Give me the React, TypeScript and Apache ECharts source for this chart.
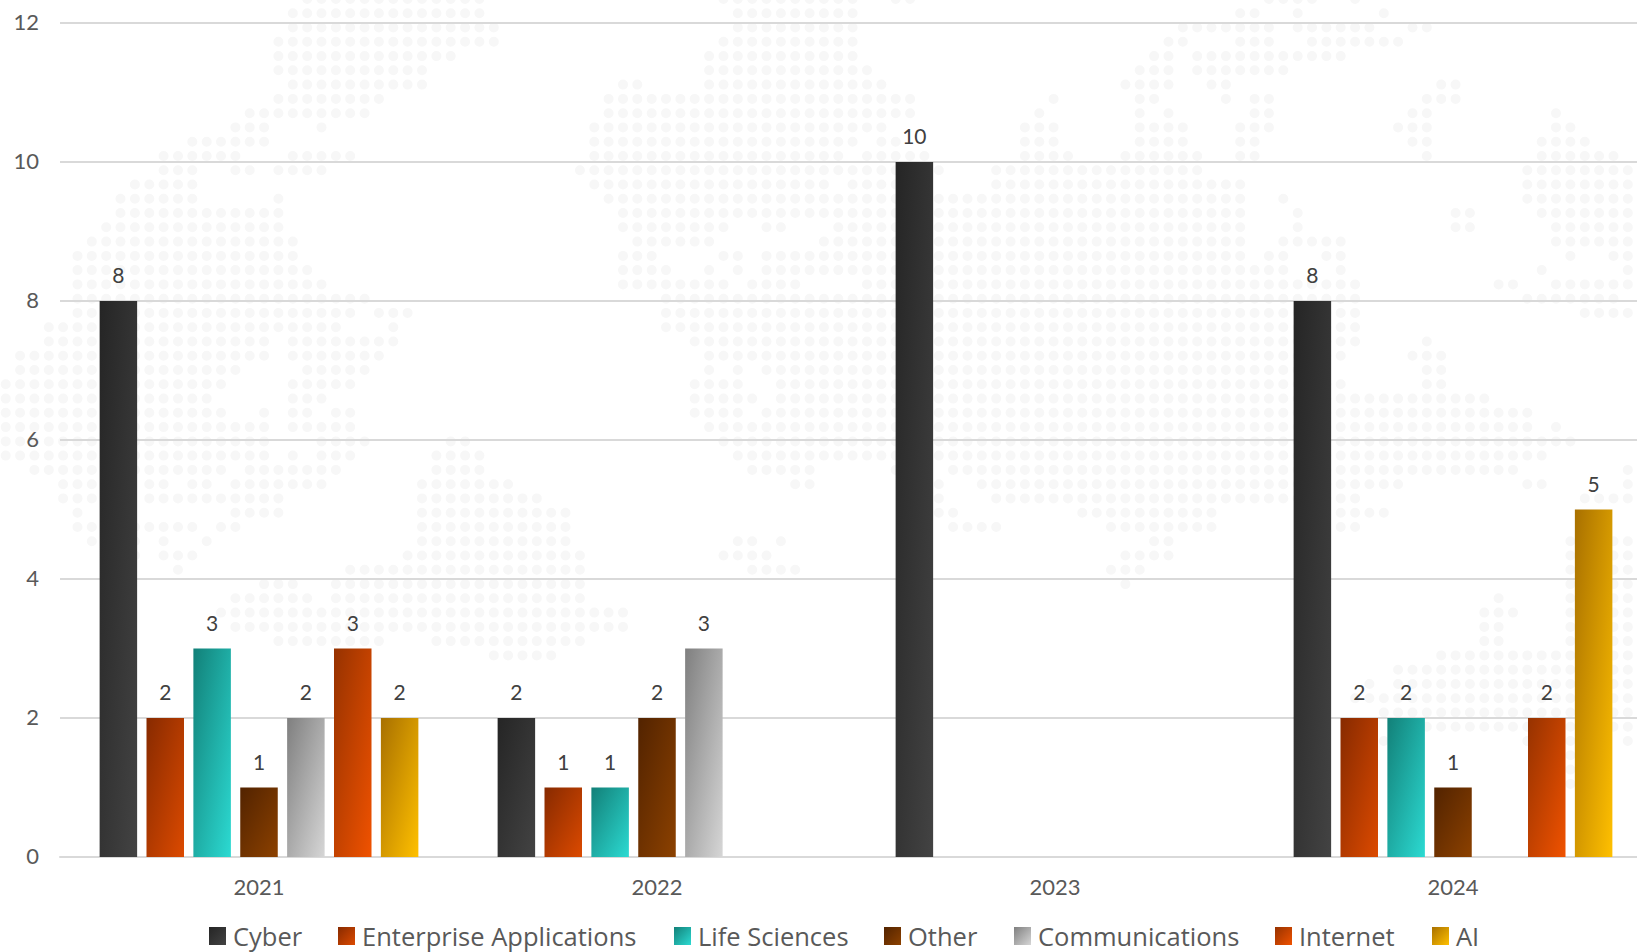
import React, { useEffect, useRef } from "react";
import * as echarts from "echarts";

const years = ["2021", "2022", "2023", "2024"];
const cyber = [8, 2, 10, 8];
const enterprise = [2, 1, null, 2];
const lifeSciences = [3, 1, null, 2];
const other = [1, 2, null, 1];
const communications = [2, 3, null, null];
const internet = [3, null, null, 2];
const ai = [2, null, null, 5];

const seriesList = [
  { name: "Cyber", values: cyber, from: "#252525", to: "#434343" },
  { name: "Enterprise Applications", values: enterprise, from: "#872a00", to: "#dc4a00" },
  { name: "Life Sciences", values: lifeSciences, from: "#128078", to: "#2cdad2" },
  { name: "Other", values: other, from: "#522300", to: "#8c4100" },
  { name: "Communications", values: communications, from: "#7f7f7f", to: "#d6d6d6" },
  { name: "Internet", values: internet, from: "#963200", to: "#f05200" },
  { name: "AI", values: ai, from: "#a87000", to: "#ffc000" },
];

const legendLefts = [204, 333, 669, 879, 1009, 1270, 1427];

// Decorative dotted world map behind the plot: per lattice row, pairs of first/last lattice column.
const mapRows: number[][] = [
  [21,33,50,59,62,63,88,91,94,94],
  [20,33,51,59,86,87,90,90,96,96],
  [20,34,51,59,82,88,90,95,98,99],
  [19,34,50,59,81,82,86,88,91,97],
  [19,31,49,59,80,81,83,93],
  [19,29,49,60,79,81,83,89],
  [20,29,43,44,49,61,78,81,84,85,100,101],
  [19,26,42,63,73,73,79,80,85,85,87,88,99,101],
  [17,25,42,63,72,72,79,79,81,81,87,88,98,99,108,108],
  [16,18,22,22,41,61,71,73,79,82,86,88,97,99,108,109],
  [13,18,41,59,61,62,71,73,79,82,86,87,98,99,107,110],
  [11,16,20,24,41,58,60,64,71,74,78,83,86,87,99,99,107,112],
  [11,13,16,17,19,22,40,65,69,83,106,114],
  [9,13,41,57,59,63,69,86,106,114],
  [8,13,19,19,42,86,89,89,106,114],
  [8,19,43,86,90,90,101,102,107,114],
  [7,19,43,50,53,54,58,86,90,90,101,102,108,114],
  [6,20,44,49,57,86,89,93,108,114],
  [5,20,43,45,50,51,53,86,88,89,92,93,109,109,112,114],
  [5,21,43,46,49,49,51,51,53,89,93,93,107,107,113,113],
  [5,22,43,50,52,55,60,94,104,105,108,113],
  [5,25,46,94,106,112],
  [5,24,26,28,46,94,110,114],
  [3,23,27,27,46,94],
  [3,18,20,27,48,94,99,99],
  [1,18,20,26,49,93,98,100],
  [1,16,21,25,49,49,51,51,53,91,99,100],
  [0,15,20,24,48,51,54,93,99,100],
  [0,14,20,22,48,52,54,103],
  [0,15,18,18,20,21,23,24,48,51,53,106],
  [0,18,20,24,49,106,108,108],
  [0,18,22,25,31,32,50,109],
  [0,18,20,20,22,24,30,33,51,107,114,114],
  [2,15,17,23,30,33,52,56,62,62,66,105,113,113],
  [4,6,10,11,13,14,16,22,29,35,55,56,65,65,68,97,106,107,113,113],
  [4,6,10,19,29,37,65,65,69,94,110,114],
  [5,5,16,19,29,39,65,66,75,84,93,96],
  [5,6,9,13,15,16,29,39,66,69,77,84,93,94],
  [6,6,9,9,11,11,14,14,29,39,51,52,54,54,80,81,109,114],
  [9,9,11,13,28,40,50,53,78,81,109,114],
  [12,12,24,40,52,55,77,79,109,114],
  [18,20,23,40,78,78,109,114],
  [16,21,23,40,104,104,109,114],
  [15,43,103,105,109,114],
  [16,43,103,104,109,114],
  [19,26,30,40,103,104,109,114],
  [34,38,100,114],
  [97,114],
  [95,95,97,114],
  [94,114],
  [96,114],
  [99,114],
  [96,96,106,109,113,114],
  [109,109,114,114],
  [109,109],
  [109,109],
];

function buildDots(): string {
  const pitchX = 14.355;
  const pitchY = 14.27;
  const radius = 5;
  let d = "";
  mapRows.forEach((runs, row) => {
    const cy = -1 + pitchY * row;
    for (let i = 0; i < runs.length; i += 2) {
      for (let c = runs[i]; c <= runs[i + 1]; c++) {
        const cx = 5.7 + pitchX * c;
        d += `M${(cx - radius).toFixed(1)} ${cy.toFixed(1)}a${radius} ${radius} 0 1 0 ${radius * 2} 0a${radius} ${radius} 0 1 0 ${-radius * 2} 0z`;
      }
    }
  });
  return d;
}

const FONT = "Lato";
const LEGEND_FONT = "Open Sans";

export default function App() {
  const ref = useRef<HTMLDivElement>(null);
  useEffect(() => {
    echarts.graphic.registerShape("dotmap", echarts.graphic.extendPath(buildDots(), {}) as any);
    const chart = echarts.init(ref.current!, null, { renderer: "svg" });
    chart.setOption({
      animation: false,
      backgroundColor: "#ffffff",
      textStyle: { fontFamily: FONT },
      graphic: [
        { type: "dotmap", x: 0, y: 0, z: -10, silent: true, style: { fill: "#f7f7f7" } },
      ],
      grid: { left: 60, top: 23, width: 1592, height: 834, outerBoundsMode: "none" },
      legend: seriesList.map((s, i) => ({
        data: [s.name],
        left: legendLefts[i],
        top: 918,
        itemWidth: 17,
        itemHeight: 18,
        icon: "rect",
        selectedMode: false,
        textStyle: { color: "#595959", fontSize: 25.5, fontFamily: LEGEND_FONT, padding: [0, 0, 0, 2] },
      })),
      xAxis: {
        type: "category",
        data: years,
        axisTick: { show: false },
        axisLine: { lineStyle: { color: "#d9d9d9", width: 2 } },
        axisLabel: { color: "#595959", fontSize: 22, fontFamily: FONT, margin: 18 },
      },
      yAxis: {
        type: "value",
        min: 0,
        max: 12,
        interval: 2,
        axisLine: { show: false },
        axisTick: { show: false },
        axisLabel: {
          formatter: "{a|{value}}",
          margin: 21,
          rich: { a: { color: "#595959", fontSize: 22, fontFamily: FONT, padding: [0, 0, 4, 0] } },
        },
        splitLine: { lineStyle: { color: "#d9d9d9", width: 2 } },
      },
      series: seriesList.map((s) => ({
        name: s.name,
        type: "bar",
        data: s.values,
        barWidth: 37.5,
        barGap: "25%",
        itemStyle: {
          color: new echarts.graphic.LinearGradient(0, 0, 1, 1, [
            { offset: 0, color: s.from },
            { offset: 1, color: s.to },
          ]),
        },
        label: {
          show: true,
          position: "top",
          distance: 16,
          color: "#404040",
          fontSize: 21,
          fontFamily: FONT,
        },
      })),
    });
    return () => chart.dispose();
  }, []);
  return (
    <div
      ref={ref}
      style={{ position: "absolute", left: 0, top: 0, width: 1637, height: 952, overflow: "hidden" }}
    />
  );
}
